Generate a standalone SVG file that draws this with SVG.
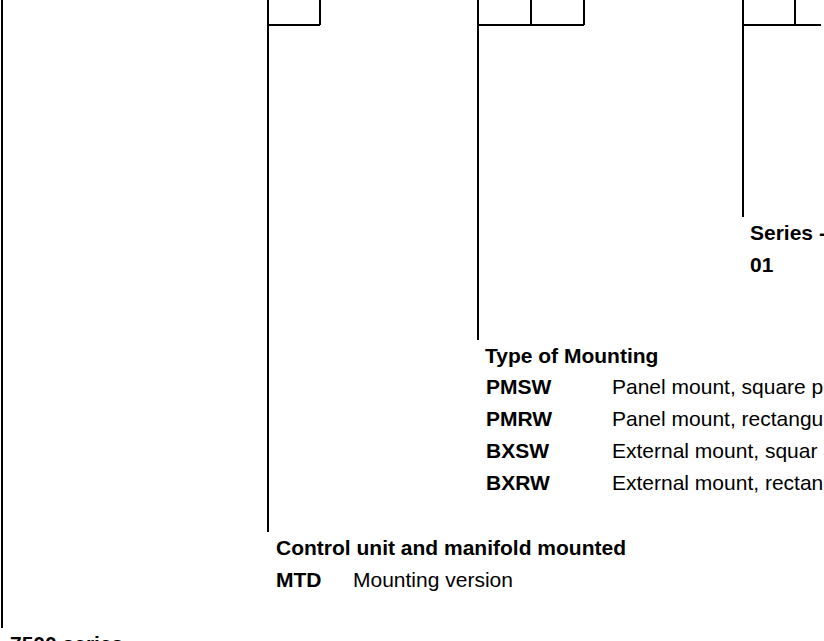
<svg xmlns="http://www.w3.org/2000/svg" width="824" height="641" viewBox="0 0 824 641">
<style>
.ln{stroke:#000;stroke-width:2;fill:none;stroke-linecap:butt}
text{font-family:"Liberation Sans",Arial,Helvetica,sans-serif;font-size:21px;fill:#000}
.b{font-weight:bold}
</style>
<rect width="824" height="641" fill="#fff"/>
<g id="connectors">
<line class="ln" x1="2" y1="0" x2="2" y2="628"/>
<line class="ln" x1="268" y1="0" x2="268" y2="532"/>
<line class="ln" x1="478" y1="0" x2="478" y2="340"/>
<line class="ln" x1="743" y1="0" x2="743" y2="217"/>
</g>
<g id="box1">
<line class="ln" x1="268" y1="25" x2="320" y2="25"/>
<line class="ln" x1="320" y1="0" x2="320" y2="25"/>
</g>
<g id="box2">
<line class="ln" x1="478" y1="25" x2="584" y2="25"/>
<line class="ln" x1="531" y1="0" x2="531" y2="25"/>
<line class="ln" x1="584" y1="0" x2="584" y2="25"/>
</g>
<g id="box3">
<line class="ln" x1="743" y1="25" x2="821" y2="25"/>
<line class="ln" x1="795" y1="0" x2="795" y2="25"/>
</g>
<g id="series">
<text class="b" x="750" y="240">Series -</text>
<text class="b" x="750" y="272">01</text>
</g>
<g id="mounting">
<text class="b" x="485" y="363">Type of Mounting</text>
<text class="b" x="486" y="394">PMSW</text>
<text x="612" y="394">Panel mount, square p</text>
<text class="b" x="486" y="426">PMRW</text>
<text x="612" y="426">Panel mount, rectangu</text>
<text class="b" x="486" y="458">BXSW</text>
<text x="612" y="458">External mount, squar</text>
<text class="b" x="486" y="490">BXRW</text>
<text x="612" y="490">External mount, rectan</text>
</g>
<g id="control">
<text class="b" x="276" y="555">Control unit and manifold mounted</text>
<text class="b" x="276" y="587">MTD</text>
<text x="353" y="587">Mounting version</text>
</g>
<g id="series7500">
<text class="b" x="10" y="651">7500 series</text>
</g>
</svg>
